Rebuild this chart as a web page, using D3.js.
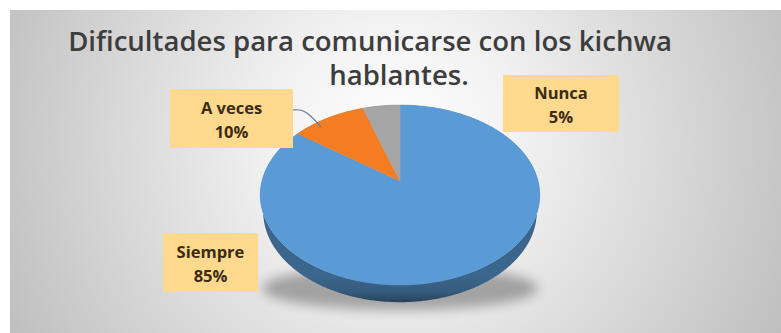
<!DOCTYPE html>
<html>
<head>
<meta charset="utf-8">
<script src="https://cdn.jsdelivr.net/npm/d3@7"></script>
<style>
  html, body { margin: 0; padding: 0; background: #ffffff; }
  svg { display: block; }
</style>
</head>
<body>
<svg id="chart" width="781" height="333"></svg>
<script>
// Survey answers
const categories = ["Siempre", "A veces", "Nunca"];
const values = [85, 10, 5];
const colors = ["#5B9BD5", "#F47D24", "#A5A5A5"];
const titleLines = ["Dificultades para comunicarse con los kichwa", "hablantes."];

// Callout boxes for the data labels (x, y, width, height)
const labelBoxes = [
  { x: 163, y: 233, w: 95, h: 59 },
  { x: 170, y: 89, w: 123, h: 59 },
  { x: 503, y: 75, w: 116, h: 57 }
];

const W = 781, H = 333;
const svg = d3.select("#chart");
const defs = svg.append("defs");

// Chart area background: soft radial light
const bg = defs.append("radialGradient").attr("id", "bgGrad")
  .attr("gradientUnits", "userSpaceOnUse")
  .attr("cx", 395).attr("cy", 140).attr("r", 430);
bg.append("stop").attr("offset", 0).attr("stop-color", "#ffffff");
bg.append("stop").attr("offset", 0.28).attr("stop-color", "#f2f2f2");
bg.append("stop").attr("offset", 1).attr("stop-color", "#bfbfbf");

svg.append("rect").attr("x", 10).attr("y", 10)
  .attr("width", W - 10).attr("height", H - 10)
  .attr("fill", "url(#bgGrad)");

// 3D pie projection: unit disk tilted towards the viewer, with perspective
const cx = 400, cy = 181;
const elev = Math.asin(0.636);
const sinE = Math.sin(elev), cosE = Math.cos(elev);
const D = 4.96, F = 684.5, thick = 0.16;

function proj(angle, r, w) {
  const u = r * Math.sin(angle);
  const v = r * Math.cos(angle);
  const yc = v * sinE + w * cosE;
  const depth = D + v * cosE - w * sinE;
  return [cx + F * u / depth, cy - F * yc / depth];
}

function arcPoints(a0, a1, w) {
  const n = Math.max(2, Math.ceil(Math.abs(a1 - a0) / 0.01));
  return d3.range(n + 1).map(i => proj(a0 + (a1 - a0) * i / n, 1, w));
}

const pie = d3.pie().sort(null).value(d => d)
  .startAngle(0).endAngle(2 * Math.PI);
const arcs = pie(values);
const line = d3.line();

// Soft shadow under the pie
const shadowF = defs.append("filter").attr("id", "shadowBlur")
  .attr("x", "-30%").attr("y", "-100%").attr("width", "160%").attr("height", "300%");
shadowF.append("feGaussianBlur").attr("stdDeviation", 6);
const front = proj(Math.PI, 1, -thick);
svg.append("ellipse")
  .attr("cx", cx).attr("cy", front[1] - 14)
  .attr("rx", 138).attr("ry", 22)
  .attr("fill", "#000").attr("opacity", 0.3)
  .attr("filter", "url(#shadowBlur)");

// Side walls
const topFront = proj(Math.PI, 1, 0);
arcs.forEach((a, i) => {
  const g = defs.append("linearGradient").attr("id", "side" + i)
    .attr("gradientUnits", "userSpaceOnUse")
    .attr("x1", 0).attr("x2", 0)
    .attr("y1", topFront[1] - 8).attr("y2", front[1]);
  const base = d3.color(colors[i]);
  g.append("stop").attr("offset", 0).attr("stop-color", base.darker(1.2));
  g.append("stop").attr("offset", 0.6).attr("stop-color", base.darker(1.5));
  g.append("stop").attr("offset", 1).attr("stop-color", base.darker(2.4));
  const pts = arcPoints(a.startAngle, a.endAngle, 0)
    .concat(arcPoints(a.endAngle, a.startAngle, -thick));
  svg.append("path").attr("d", line(pts) + "Z")
    .attr("fill", "url(#side" + i + ")");
});

// Top faces
arcs.forEach((a, i) => {
  const pts = [proj(0, 0, 0)].concat(arcPoints(a.startAngle, a.endAngle, 0));
  svg.append("path").attr("d", line(pts) + "Z")
    .attr("fill", colors[i])
    .attr("stroke", colors[i]).attr("stroke-width", 0.6);
});

// Leader line for the "A veces" callout
{
  const a = arcs[1];
  const mid = (a.startAngle + a.endAngle) / 2;
  const end = proj(mid - 0.12, 0.93, 0);
  const b = labelBoxes[1];
  const yStart = b.y + 21;
  svg.append("path")
    .attr("d", d3.line().curve(d3.curveBasis)([[b.x + b.w, yStart], [b.x + b.w + 12, yStart - 1], [end[0], end[1]]]))
    .attr("fill", "none").attr("stroke", "#5f7a94").attr("stroke-width", 1.2);
}

// Title, sized so the first line spans the heading block
const title = svg.append("g").attr("fill", "#3d3d3d")
  .attr("font-family", "'Open Sans', sans-serif").attr("font-weight", 600)
  .attr("text-anchor", "middle");
const t1 = title.append("text").attr("x", 370).attr("y", 51)
  .attr("font-size", 23).text(titleLines[0]);
const fs = 23 * 604 / t1.node().getComputedTextLength();
t1.attr("font-size", fs);
title.append("text").attr("x", 399).attr("y", 85)
  .attr("font-size", fs).text(titleLines[1]);

// Data label callouts
const total = d3.sum(values);
const labels = svg.append("g");
arcs.forEach((a, i) => {
  const b = labelBoxes[i];
  labels.append("rect").attr("x", b.x).attr("y", b.y)
    .attr("width", b.w).attr("height", b.h)
    .attr("fill", "#FFD98E");
  const t = labels.append("text")
    .attr("x", b.x + b.w / 2).attr("text-anchor", "middle")
    .attr("font-family", "'Open Sans', sans-serif").attr("font-weight", 700)
    .attr("font-size", 16.5).attr("fill", "#3a2b12");
  t.append("tspan").attr("x", b.x + b.w / 2).attr("y", b.y + b.h / 2 - 5)
    .text(categories[i]);
  t.append("tspan").attr("x", b.x + b.w / 2).attr("y", b.y + b.h / 2 + 19)
    .text(Math.round(values[i] / total * 100) + "%");
});
</script>
</body>
</html>
